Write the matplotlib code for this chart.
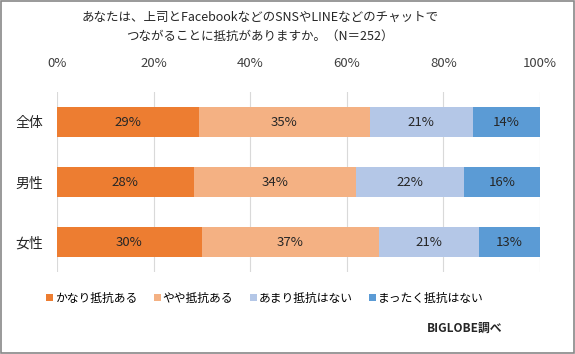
import matplotlib
matplotlib.use("Agg")
import matplotlib.pyplot as plt
from matplotlib.ticker import PercentFormatter

plt.rcParams['font.family'] = ['Noto Sans CJK JP', 'DejaVu Sans']

# données
groupes = ["全体", "男性", "女性"]
series = ["かなり抵抗ある", "やや抵抗ある", "あまり抵抗はない", "まったく抵抗はない"]
tres = [29.4, 28.3, 30.0]
assez = [35.3, 33.6, 36.7]
peu = [21.4, 22.4, 20.7]
pas = [13.9, 15.7, 12.6]
couleurs = ["#ED7D31", "#F4B183", "#B4C7E7", "#5B9BD5"]

fig = plt.figure(figsize=(5.75, 3.54), dpi=100)
ax = fig.add_axes([57/575, 1-272/354, 483/575, 180/354])

gauche = [0, 0, 0]
for nom, vals, c in zip(series, [tres, assez, peu, pas], couleurs):
    bars = ax.barh(range(len(groupes)), vals, left=gauche, height=0.5, color=c, label=nom, zorder=3)
    for b, v in zip(bars, vals):
        ax.text(b.get_x() + b.get_width()/2, b.get_y() + b.get_height()/2, f"{round(v)}%",
                ha="center", va="center", fontsize=9.5, color="#262626", zorder=4)
    gauche = [g + v for g, v in zip(gauche, vals)]

ax.set_xlim(0, 100)
ax.set_ylim(2.5, -0.5)
ax.set_yticks(range(len(groupes)))
ax.set_yticklabels(groupes, fontsize=10)
ax.set_xticks(range(0, 101, 20))
ax.xaxis.set_major_formatter(PercentFormatter(decimals=0))
ax.xaxis.tick_top()
ax.tick_params(axis="x", length=0, pad=16, labelsize=9.5, colors="#404040")
ax.tick_params(axis="y", length=0, pad=10, colors="#262626")
ax.grid(axis="x", color="#D9D9D9", linewidth=0.8, zorder=0)
for s in ax.spines.values():
    s.set_visible(False)

fig.text(260/575, 1-27/354, "あなたは、上司とFacebookなどのSNSやLINEなどのチャットで\nつながることに抵抗がありますか。（N＝252）",
         ha="center", va="center", fontsize=9, linespacing=1.55, color="#262626")

fig.legend(loc="center", bbox_to_anchor=(265/575, 1-298/354), ncol=4, frameon=False,
           fontsize=8.5, handlelength=0.6, handleheight=0.6, handletextpad=0.15,
           columnspacing=1.4)

fig.text(502/575, 1-328/354, "BIGLOBE調べ", ha="right", va="center", fontsize=8.5,
         fontweight="bold", color="#262626")

fig.patches.append(plt.Rectangle((0.001, 0.002), 0.997, 0.996, transform=fig.transFigure,
                                 fill=False, edgecolor="#888888", linewidth=1.2))

fig.savefig("out.png", dpi=100)
